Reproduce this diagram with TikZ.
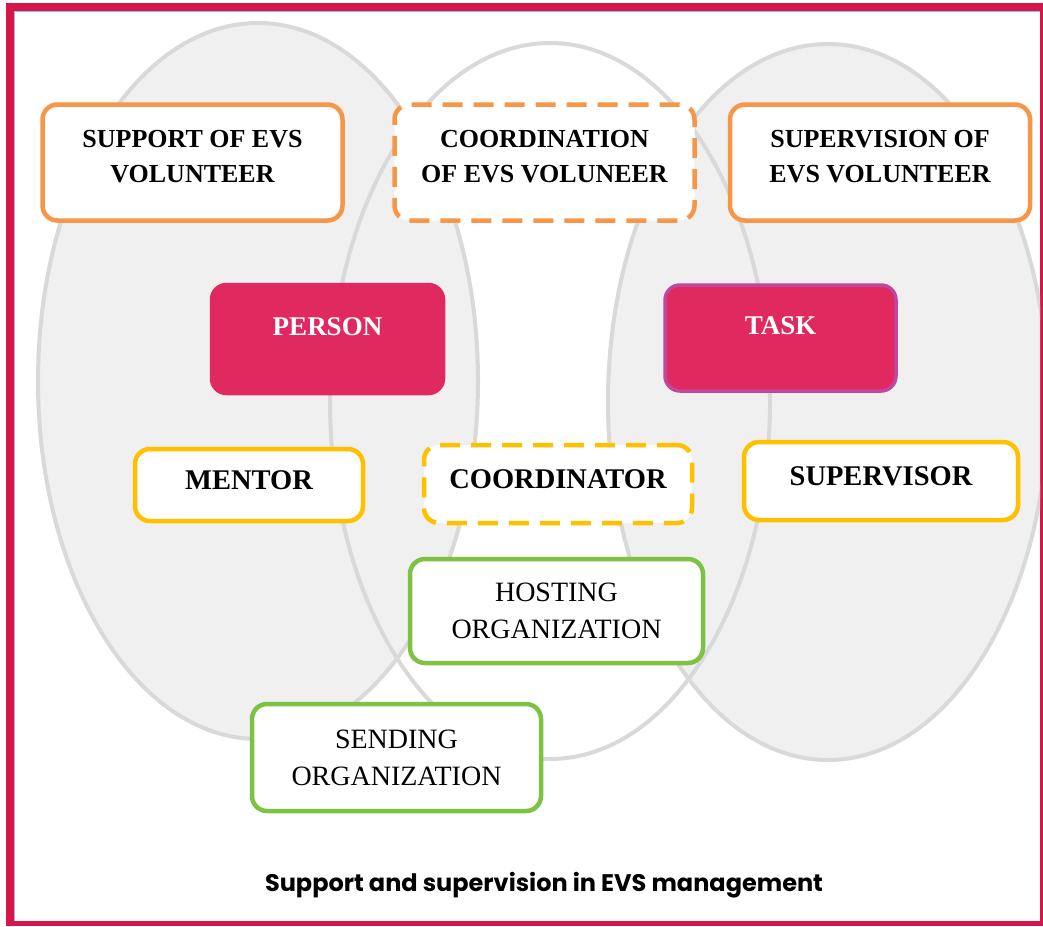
\documentclass[tikz,border=0pt]{standalone}
\usepackage{fontspec}
\setmainfont{Liberation Serif}
\newfontfamily\captionfont{Poppins}
\definecolor{framered}{HTML}{D6154A}
\definecolor{frameblue}{HTML}{9DB8DC}
\definecolor{ellfill}{HTML}{F0F0F0}
\definecolor{elldraw}{HTML}{D9D9D9}
\definecolor{evsorange}{HTML}{F79646}
\definecolor{evsyellow}{HTML}{FFC000}
\definecolor{evsgreen}{HTML}{7DC242}
\definecolor{evscrimson}{HTML}{E0295F}
\definecolor{evspurple}{HTML}{C0479F}
\tikzset{
  box/.style={draw, rounded corners=15pt, line width=4.5pt, fill=white, align=center, inner sep=0pt},
  toprow/.style={box, draw=evsorange, minimum width=300pt, minimum height=116pt,
    font=\bfseries\fontsize{26}{35}\selectfont, text depth=13pt},
  midrow/.style={box, draw=evsyellow, minimum height=74pt,
    font=\bfseries\fontsize{28.5}{33}\selectfont, text height=19pt, text depth=11pt},
  keybox/.style={box, fill=evscrimson, draw=evscrimson, text=white, line width=3.5pt,
    font=\bfseries\fontsize{27}{32}\selectfont, text height=18pt, text depth=26pt},
  orgbox/.style={box, draw=evsgreen, font=\fontsize{28}{37}\selectfont},
  orgdash/.style={dash pattern=on 20pt off 11pt}
}
\begin{document}
\begin{tikzpicture}[x=1pt,y=-1pt]
\useasboundingbox (0,0) rectangle (1043,926);
% frame
\fill[framered] (6,3) rectangle (1043,926);
\fill[white] (14,11) rectangle (1040,921);
\draw[frameblue, line width=1pt] (14.5,921) -- (14.5,11.5) -- (1040,11.5);

\coordinate (left) at (258,381);
\coordinate (mid) at (550,401);
\coordinate (right) at (828,402);
\begin{scope}
  \clip (14,11) rectangle (1040,921);
  \fill[white] (mid) ellipse [x radius=220pt, y radius=358pt];
  \fill[ellfill] (left) ellipse [x radius=220pt, y radius=358pt];
  \fill[ellfill] (right) ellipse [x radius=220pt, y radius=358pt];
  \foreach \e in {left,mid,right}
    \draw[elldraw, line width=4pt] (\e) ellipse [x radius=220pt, y radius=358pt];
\end{scope}

\node[toprow] (support) at (192.5,162.5) {SUPPORT OF EVS\\VOLUNTEER};
\node[toprow, orgdash] (coordination) at (544.5,162.5) {COORDINATION\\OF EVS VOLUNEER};
\node[toprow] (supervision) at (880,162.5) {SUPERVISION OF\\EVS VOLUNTEER};

\node[keybox, minimum width=232pt, minimum height=109pt] (person) at (327.5,339) {PERSON};
\node[keybox, draw=evspurple, minimum width=231pt, minimum height=106pt] (task) at (780.5,338) {TASK};

\node[midrow, minimum width=228pt, minimum height=72pt] (mentor) at (249,485) {MENTOR};
\node[midrow, orgdash, minimum width=268pt, minimum height=78pt] (coordinator) at (558,484) {COORDINATOR};
\node[midrow, minimum width=274pt, minimum height=78pt] (supervisor) at (881,481) {SUPERVISOR};

\node[orgbox, minimum width=293pt, minimum height=104pt] (hosting) at (556.5,611) {HOSTING\\ORGANIZATION};
\node[orgbox, minimum width=289pt, minimum height=107pt] (sending) at (396.5,757.5) {SENDING\\ORGANIZATION};

\node[font=\captionfont\bfseries\fontsize{24}{28}\selectfont] (caption) at (544,885) {Support and supervision in EVS management};
\end{tikzpicture}
\end{document}
